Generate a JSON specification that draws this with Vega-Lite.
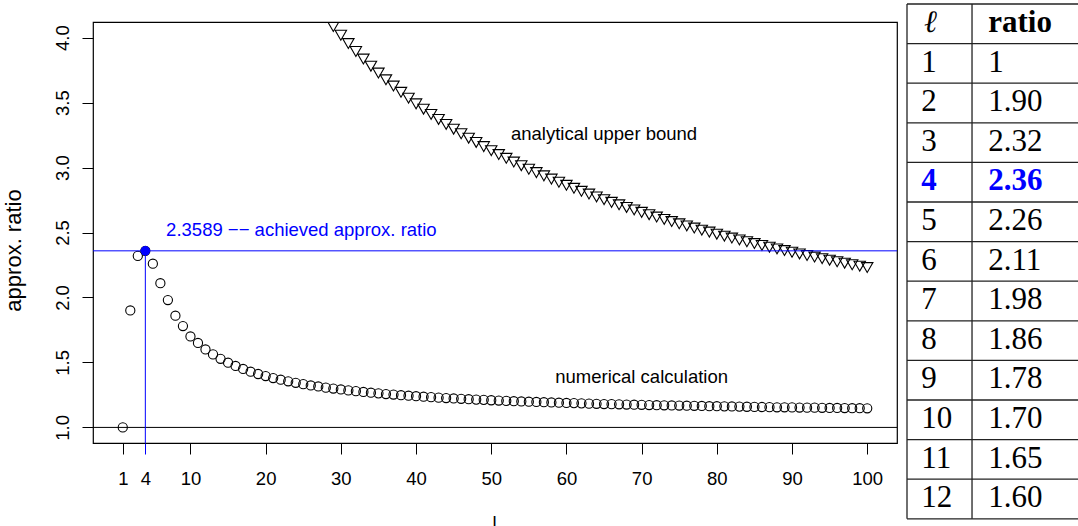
{
  "$schema": "https://vega.github.io/schema/vega-lite/v6.json",
  "autosize": "none",
  "padding": {"left": 93, "top": 22, "right": 985, "bottom": 83},
  "background": "white",
  "bounds": "flush",
  "spacing": 10,
  "config": {"font": "Liberation Sans", "view": {"stroke": null}},
  "datasets": {
    "numerical": [
      {"l": 1, "ratio": 1}, {"l": 2, "ratio": 1.9}, {"l": 3, "ratio": 2.32}, {"l": 4, "ratio": 2.3589},
      {"l": 5, "ratio": 2.26}, {"l": 6, "ratio": 2.11}, {"l": 7, "ratio": 1.98}, {"l": 8, "ratio": 1.86},
      {"l": 9, "ratio": 1.78}, {"l": 10, "ratio": 1.7}, {"l": 11, "ratio": 1.65}, {"l": 12, "ratio": 1.6},
      {"l": 13, "ratio": 1.562}, {"l": 14, "ratio": 1.528}, {"l": 15, "ratio": 1.498}, {"l": 16, "ratio": 1.473},
      {"l": 17, "ratio": 1.45}, {"l": 18, "ratio": 1.429}, {"l": 19, "ratio": 1.411}, {"l": 20, "ratio": 1.395},
      {"l": 21, "ratio": 1.38}, {"l": 22, "ratio": 1.367}, {"l": 23, "ratio": 1.355}, {"l": 24, "ratio": 1.343},
      {"l": 25, "ratio": 1.333}, {"l": 26, "ratio": 1.323}, {"l": 27, "ratio": 1.315}, {"l": 28, "ratio": 1.306},
      {"l": 29, "ratio": 1.299}, {"l": 30, "ratio": 1.292}, {"l": 31, "ratio": 1.285}, {"l": 32, "ratio": 1.279},
      {"l": 33, "ratio": 1.273}, {"l": 34, "ratio": 1.267}, {"l": 35, "ratio": 1.262}, {"l": 36, "ratio": 1.257},
      {"l": 37, "ratio": 1.253}, {"l": 38, "ratio": 1.248}, {"l": 39, "ratio": 1.244}, {"l": 40, "ratio": 1.24},
      {"l": 41, "ratio": 1.236}, {"l": 42, "ratio": 1.233}, {"l": 43, "ratio": 1.229}, {"l": 44, "ratio": 1.226},
      {"l": 45, "ratio": 1.223}, {"l": 46, "ratio": 1.22}, {"l": 47, "ratio": 1.217}, {"l": 48, "ratio": 1.214},
      {"l": 49, "ratio": 1.212}, {"l": 50, "ratio": 1.209}, {"l": 51, "ratio": 1.207}, {"l": 52, "ratio": 1.204},
      {"l": 53, "ratio": 1.202}, {"l": 54, "ratio": 1.2}, {"l": 55, "ratio": 1.198}, {"l": 56, "ratio": 1.196},
      {"l": 57, "ratio": 1.194}, {"l": 58, "ratio": 1.192}, {"l": 59, "ratio": 1.19}, {"l": 60, "ratio": 1.188},
      {"l": 61, "ratio": 1.187}, {"l": 62, "ratio": 1.185}, {"l": 63, "ratio": 1.183}, {"l": 64, "ratio": 1.182},
      {"l": 65, "ratio": 1.18}, {"l": 66, "ratio": 1.179}, {"l": 67, "ratio": 1.178}, {"l": 68, "ratio": 1.176},
      {"l": 69, "ratio": 1.175}, {"l": 70, "ratio": 1.174}, {"l": 71, "ratio": 1.172}, {"l": 72, "ratio": 1.171},
      {"l": 73, "ratio": 1.17}, {"l": 74, "ratio": 1.169}, {"l": 75, "ratio": 1.168}, {"l": 76, "ratio": 1.167},
      {"l": 77, "ratio": 1.166}, {"l": 78, "ratio": 1.165}, {"l": 79, "ratio": 1.163}, {"l": 80, "ratio": 1.163},
      {"l": 81, "ratio": 1.162}, {"l": 82, "ratio": 1.161}, {"l": 83, "ratio": 1.16}, {"l": 84, "ratio": 1.159},
      {"l": 85, "ratio": 1.158}, {"l": 86, "ratio": 1.157}, {"l": 87, "ratio": 1.156}, {"l": 88, "ratio": 1.155},
      {"l": 89, "ratio": 1.155}, {"l": 90, "ratio": 1.154}, {"l": 91, "ratio": 1.153}, {"l": 92, "ratio": 1.152},
      {"l": 93, "ratio": 1.152}, {"l": 94, "ratio": 1.151}, {"l": 95, "ratio": 1.15}, {"l": 96, "ratio": 1.15},
      {"l": 97, "ratio": 1.149}, {"l": 98, "ratio": 1.148}, {"l": 99, "ratio": 1.148}, {"l": 100, "ratio": 1.147}
    ],
    "upper": [
      {"l": 28, "ratio": 4.156}, {"l": 29, "ratio": 4.085}, {"l": 30, "ratio": 4.018}, {"l": 31, "ratio": 3.954},
      {"l": 32, "ratio": 3.893}, {"l": 33, "ratio": 3.835}, {"l": 34, "ratio": 3.78}, {"l": 35, "ratio": 3.727},
      {"l": 36, "ratio": 3.675}, {"l": 37, "ratio": 3.627}, {"l": 38, "ratio": 3.579}, {"l": 39, "ratio": 3.534},
      {"l": 40, "ratio": 3.49}, {"l": 41, "ratio": 3.449}, {"l": 42, "ratio": 3.409}, {"l": 43, "ratio": 3.37},
      {"l": 44, "ratio": 3.332}, {"l": 45, "ratio": 3.295}, {"l": 46, "ratio": 3.26}, {"l": 47, "ratio": 3.226},
      {"l": 48, "ratio": 3.193}, {"l": 49, "ratio": 3.161}, {"l": 50, "ratio": 3.13}, {"l": 51, "ratio": 3.1},
      {"l": 52, "ratio": 3.071}, {"l": 53, "ratio": 3.042}, {"l": 54, "ratio": 3.014}, {"l": 55, "ratio": 2.987},
      {"l": 56, "ratio": 2.961}, {"l": 57, "ratio": 2.936}, {"l": 58, "ratio": 2.911}, {"l": 59, "ratio": 2.887},
      {"l": 60, "ratio": 2.863}, {"l": 61, "ratio": 2.84}, {"l": 62, "ratio": 2.817}, {"l": 63, "ratio": 2.796},
      {"l": 64, "ratio": 2.774}, {"l": 65, "ratio": 2.753}, {"l": 66, "ratio": 2.732}, {"l": 67, "ratio": 2.713},
      {"l": 68, "ratio": 2.693}, {"l": 69, "ratio": 2.674}, {"l": 70, "ratio": 2.655}, {"l": 71, "ratio": 2.637},
      {"l": 72, "ratio": 2.619}, {"l": 73, "ratio": 2.601}, {"l": 74, "ratio": 2.584}, {"l": 75, "ratio": 2.567},
      {"l": 76, "ratio": 2.551}, {"l": 77, "ratio": 2.534}, {"l": 78, "ratio": 2.518}, {"l": 79, "ratio": 2.503},
      {"l": 80, "ratio": 2.487}, {"l": 81, "ratio": 2.472}, {"l": 82, "ratio": 2.457}, {"l": 83, "ratio": 2.443},
      {"l": 84, "ratio": 2.429}, {"l": 85, "ratio": 2.415}, {"l": 86, "ratio": 2.401}, {"l": 87, "ratio": 2.387},
      {"l": 88, "ratio": 2.374}, {"l": 89, "ratio": 2.361}, {"l": 90, "ratio": 2.348}, {"l": 91, "ratio": 2.335},
      {"l": 92, "ratio": 2.323}, {"l": 93, "ratio": 2.311}, {"l": 94, "ratio": 2.299}, {"l": 95, "ratio": 2.287},
      {"l": 96, "ratio": 2.275}, {"l": 97, "ratio": 2.264}, {"l": 98, "ratio": 2.252}, {"l": 99, "ratio": 2.241},
      {"l": 100, "ratio": 2.23}
    ],
    "achieved": [{"l": 4, "ratio": 2.3589}],
    "optimum": [{"ratio": 1}],
    "table": [
      {"row": 1, "ell": "1", "ratio": "1"},
      {"row": 2, "ell": "2", "ratio": "1.90"},
      {"row": 3, "ell": "3", "ratio": "2.32"},
      {"row": 4, "ell": "4", "ratio": "2.36"},
      {"row": 5, "ell": "5", "ratio": "2.26"},
      {"row": 6, "ell": "6", "ratio": "2.11"},
      {"row": 7, "ell": "7", "ratio": "1.98"},
      {"row": 8, "ell": "8", "ratio": "1.86"},
      {"row": 9, "ell": "9", "ratio": "1.78"},
      {"row": 10, "ell": "10", "ratio": "1.70"},
      {"row": 11, "ell": "11", "ratio": "1.65"},
      {"row": 12, "ell": "12", "ratio": "1.60"}
    ]
  },
  "hconcat": [
    {
      "width": 804,
      "height": 421,
      "view": {"stroke": "#000000", "strokeWidth": 1.2},
      "layer": [
        {
          "data": {"name": "numerical"},
          "mark": {"type": "point", "shape": "circle", "filled": false, "stroke": "#000000", "strokeWidth": 1.1, "size": 84, "opacity": 1},
          "encoding": {
            "x": {
              "field": "l", "type": "quantitative", "title": "l",
              "scale": {"domain": [-2.96, 103.96], "nice": false, "zero": false},
              "axis": {
                "values": [1, 4, 10, 20, 30, 40, 50, 60, 70, 80, 90, 100],
                "format": "d", "domain": false, "grid": false,
                "tickSize": 11, "tickWidth": 1,
                "tickColor": {"condition": {"test": "datum.value === 4", "value": "#0000ff"}, "value": "#000000"},
                "labelFont": "Liberation Sans", "labelFontSize": 18.5, "labelColor": "#000000",
                "labelPadding": 30, "labelBaseline": "alphabetic", "labelFlush": false, "labelOverlap": false,
                "titleFont": "Liberation Sans", "titleFontSize": 18.5, "titleFontWeight": "normal", "titleColor": "#000000",
                "titleX": 401, "titleY": 85, "titleBaseline": "alphabetic", "titleAlign": "center"
              }
            },
            "y": {
              "field": "ratio", "type": "quantitative", "title": "approx. ratio",
              "scale": {"domain": [0.88, 4.12], "nice": false, "zero": false},
              "axis": {
                "values": [1, 1.5, 2, 2.5, 3, 3.5, 4],
                "format": ".1f", "domain": false, "grid": false,
                "tickSize": 11, "tickWidth": 1, "tickColor": "#000000",
                "labelAngle": -90, "labelAlign": "center", "labelBaseline": "alphabetic", "labelPadding": 14,
                "labelFont": "Liberation Sans", "labelFontSize": 18.5, "labelColor": "#000000", "labelFlush": false, "labelOverlap": false,
                "titleFont": "Liberation Sans", "titleFontSize": 22, "titleFontWeight": "normal", "titleColor": "#000000",
                "titleAngle": -90, "titleX": -73, "titleY": 228, "titleAlign": "center", "titleBaseline": "alphabetic"
              }
            }
          }
        },
        {
          "data": {"name": "upper"},
          "mark": {"type": "point", "shape": "triangle-down", "filled": false, "stroke": "#000000", "strokeWidth": 1.1, "size": 130, "opacity": 1, "clip": true},
          "encoding": {
            "x": {"field": "l", "type": "quantitative"},
            "y": {"field": "ratio", "type": "quantitative", "title": "approx. ratio"}
          }
        },
        {
          "data": {"name": "optimum"},
          "mark": {"type": "rule", "color": "#000000", "strokeWidth": 1},
          "encoding": {"y": {"field": "ratio", "type": "quantitative", "title": "approx. ratio"}}
        },
        {
          "data": {"name": "achieved"},
          "mark": {"type": "rule", "color": "#0000ff", "strokeWidth": 1},
          "encoding": {"y": {"field": "ratio", "type": "quantitative", "title": "approx. ratio"}}
        },
        {
          "data": {"name": "achieved"},
          "mark": {"type": "rule", "color": "#0000ff", "strokeWidth": 1},
          "encoding": {
            "x": {"field": "l", "type": "quantitative"},
            "y": {"field": "ratio", "type": "quantitative", "title": "approx. ratio"},
            "y2": {"datum": 0.88}
          }
        },
        {
          "data": {"name": "achieved"},
          "mark": {"type": "point", "shape": "circle", "filled": true, "color": "#0000ff", "size": 90, "opacity": 1},
          "encoding": {
            "x": {"field": "l", "type": "quantitative"},
            "y": {"field": "ratio", "type": "quantitative", "title": "approx. ratio"}
          }
        },
        {
          "data": {"values": [{"label": "2.3589 −− achieved approx. ratio"}]},
          "mark": {"type": "text", "color": "#0000ff", "font": "Liberation Sans", "fontSize": 18.5, "align": "center", "baseline": "alphabetic"},
          "encoding": {
            "x": {"datum": 24.75, "type": "quantitative"},
            "y": {"datum": 2.472, "type": "quantitative"},
            "text": {"field": "label"}
          }
        },
        {
          "data": {"values": [{"label": "analytical upper bound"}]},
          "mark": {"type": "text", "color": "#000000", "font": "Liberation Sans", "fontSize": 18.5, "align": "center", "baseline": "alphabetic"},
          "encoding": {
            "x": {"datum": 65, "type": "quantitative"},
            "y": {"datum": 3.214, "type": "quantitative"},
            "text": {"field": "label"}
          }
        },
        {
          "data": {"values": [{"label": "numerical calculation"}]},
          "mark": {"type": "text", "color": "#000000", "font": "Liberation Sans", "fontSize": 18.5, "align": "center", "baseline": "alphabetic"},
          "encoding": {
            "x": {"datum": 70, "type": "quantitative"},
            "y": {"datum": 1.342, "type": "quantitative"},
            "text": {"field": "label"}
          }
        }
      ]
    },
    {
      "width": 171,
      "height": 421,
      "view": {"stroke": null},
      "layer": [
        {
          "data": {"name": "table"},
          "mark": {"type": "rule", "color": "#222222", "strokeWidth": 1.3},
          "encoding": {
            "y": {"field": "row", "type": "quantitative", "scale": {"domain": [0.4545, 11.0859], "reverse": true, "nice": false, "zero": false}, "axis": null}
          }
        },
        {
          "data": {"values": [{"edge": 0}, {"edge": 13}]},
          "mark": {"type": "rule", "color": "#222222", "strokeWidth": 1.3},
          "encoding": {
            "y": {"field": "edge", "type": "quantitative", "axis": null}
          }
        },
        {
          "data": {"values": [{"col": 0}, {"col": 1}]},
          "mark": {"type": "rule", "color": "#222222", "strokeWidth": 1.3},
          "encoding": {
            "x": {"field": "col", "type": "quantitative", "scale": {"domain": [0, 2.63], "nice": false, "zero": false}, "axis": null},
            "y": {"datum": 0, "type": "quantitative"},
            "y2": {"datum": 13}
          }
        },
        {
          "data": {"name": "table"},
          "transform": [{"filter": "datum.row !== 4"}],
          "mark": {"type": "text", "font": "Liberation Serif", "fontSize": 31, "align": "left", "baseline": "alphabetic", "dy": 28, "color": "#000000"},
          "encoding": {
            "x": {"datum": 0.22, "type": "quantitative"},
            "y": {"field": "row", "type": "quantitative"},
            "text": {"field": "ell"}
          }
        },
        {
          "data": {"name": "table"},
          "transform": [{"filter": "datum.row !== 4"}],
          "mark": {"type": "text", "font": "Liberation Serif", "fontSize": 31, "align": "left", "baseline": "alphabetic", "dy": 28, "color": "#000000"},
          "encoding": {
            "x": {"datum": 1.25, "type": "quantitative"},
            "y": {"field": "row", "type": "quantitative"},
            "text": {"field": "ratio"}
          }
        },
        {
          "data": {"name": "table"},
          "transform": [{"filter": "datum.row === 4"}],
          "mark": {"type": "text", "font": "Liberation Serif", "fontSize": 31, "fontWeight": "bold", "align": "left", "baseline": "alphabetic", "dy": 28, "color": "#0000ff"},
          "encoding": {
            "x": {"datum": 0.22, "type": "quantitative"},
            "y": {"field": "row", "type": "quantitative"},
            "text": {"field": "ell"}
          }
        },
        {
          "data": {"name": "table"},
          "transform": [{"filter": "datum.row === 4"}],
          "mark": {"type": "text", "font": "Liberation Serif", "fontSize": 31, "fontWeight": "bold", "align": "left", "baseline": "alphabetic", "dy": 28, "color": "#0000ff"},
          "encoding": {
            "x": {"datum": 1.25, "type": "quantitative"},
            "y": {"field": "row", "type": "quantitative"},
            "text": {"field": "ratio"}
          }
        },
        {
          "data": {"values": [{"head": "ℓ"}]},
          "mark": {"type": "text", "font": "Liberation Serif", "fontSize": 31, "fontStyle": "italic", "align": "left", "baseline": "alphabetic", "dy": 28, "color": "#000000"},
          "encoding": {
            "x": {"datum": 0.26, "type": "quantitative"},
            "y": {"datum": 0, "type": "quantitative"},
            "text": {"field": "head"}
          }
        },
        {
          "data": {"values": [{"head": "ratio"}]},
          "mark": {"type": "text", "font": "Liberation Serif", "fontSize": 31, "fontWeight": "bold", "align": "left", "baseline": "alphabetic", "dy": 28, "color": "#000000"},
          "encoding": {
            "x": {"datum": 1.25, "type": "quantitative"},
            "y": {"datum": 0, "type": "quantitative"},
            "text": {"field": "head"}
          }
        }
      ]
    }
  ]
}
